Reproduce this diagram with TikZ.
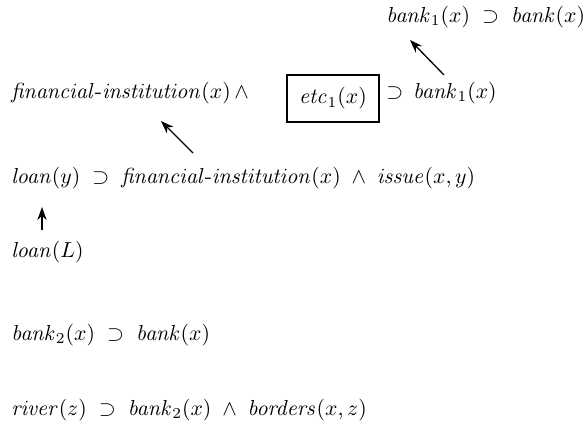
\documentclass[tikz,border=0pt]{standalone}
\usepackage{amsmath,amssymb}
\usepackage{tikz}
\usetikzlibrary{arrows.meta,positioning,calc}
\tikzset{
  fact/.style={anchor=base west,inner sep=0pt},
  cue/.style={draw,line width=0.6pt,minimum width=42.3pt,minimum height=21.6pt,inner sep=0pt},
  link/.style={-{Stealth[length=2.1mm,width=1.5mm]},line width=0.6pt}
}
\newcommand{\pred}[1]{\mathit{#1}}
\newcommand{\impl}{\mathrel{\;\supset\;}}
\newcommand{\conj}{\mathbin{\;\wedge\;}}

\begin{document}
\begin{tikzpicture}[x=0.46pt,y=-0.46pt]
  \useasboundingbox (0,0) rectangle (586,427);
  \node[fact] (top) at (386,22) {$\pred{bank}_1(x)\impl\pred{bank}(x)$};
  \node[fact] (fin) at (11,98) {$\pred{financial\text{-}institution}(x)\,\wedge$};
  \node[cue] (etc) at (333,98.5) {$\pred{etc}_1(x)$};
  \node[fact] (imp) at (386,98) {${\supset}\;\,\pred{bank}_1(x)$};
  \node[fact] (loany) at (11,183) {$\pred{loan}(y)\impl\pred{financial\text{-}institution}(x)\conj\pred{issue}(x,y)$};
  \node[fact] (loanL) at (11,257) {$\pred{loan}(L)$};
  \node[fact] (bank2) at (11,340) {$\pred{bank}_2(x)\impl\pred{bank}(x)$};
  \node[fact] (river) at (11,415) {$\pred{river}(z)\impl\pred{bank}_2(x)\conj\pred{borders}(x,z)$};
  % abduction links
  \draw[link] ($(imp.base west)+(58,-23)$) -- ($(top.base west)+(24,18)$);
  \draw[link] ($(loany.base west)+(182,-30)$) -- ($(fin.base west)+(150,23)$);
  \draw[link] ($(loanL.base west)+(31,-27)$) -- ($(loany.base west)+(31,24)$);
\end{tikzpicture}
\end{document}
